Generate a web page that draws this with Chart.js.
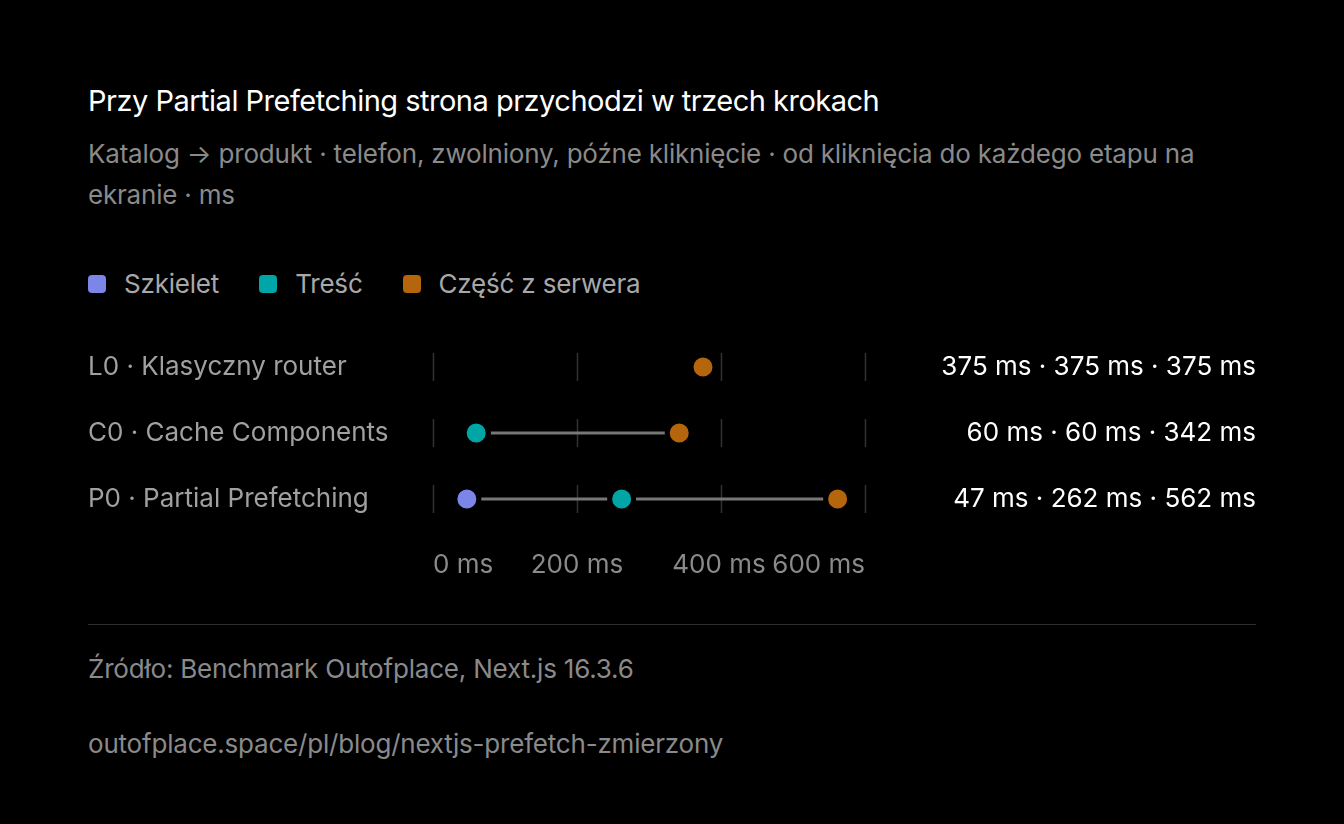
<!DOCTYPE html>
<html><head><meta charset="utf-8">
<script src="https://cdn.jsdelivr.net/npm/chart.js@4"></script>
<style>
body{margin:0;background:#000;width:1344px;height:824px;overflow:hidden;font-family:Inter,sans-serif;}
.t{position:absolute;left:88px;top:83px;color:#fff;font-size:29px;letter-spacing:-0.5px}
.s{position:absolute;left:88px;top:133px;width:1170px;color:#8a8a8a;font-size:26px;line-height:41px;letter-spacing:-0.2px}
.lg{position:absolute;left:88px;top:268px;color:#a8a8a8;font-size:26px;display:flex;letter-spacing:-0.2px}
.lg span{display:flex;align-items:center;margin-right:40px}
.lg i{display:inline-block;width:18px;height:18px;border-radius:4px;margin-right:18px}
#w{position:absolute;left:88px;top:317px;width:1168px;height:281px}
.hr{position:absolute;left:88px;top:624px;width:1168px;height:1px;background:#2e2e2e}
.f{position:absolute;left:88px;color:#8a8a8a;font-size:26px;letter-spacing:-0.2px}
</style></head><body>
<div class="t">Przy Partial Prefetching strona przychodzi w trzech krokach</div>
<div class="s">Katalog → produkt · telefon, zwolniony, późne kliknięcie · od kliknięcia do każdego etapu na ekranie · ms</div>
<div class="lg"><span><i style="background:#7b86e8"></i>Szkielet</span><span><i style="background:#00a6a6"></i>Treść</span><span><i style="background:#b5650c"></i>Część z serwera</span></div>
<div id="w"><canvas id="c"></canvas></div>
<div class="hr"></div>
<div class="f" style="top:653px">Źródło: Benchmark Outofplace, Next.js 16.3.6</div>
<div class="f" style="top:728px">outofplace.space/pl/blog/nextjs-prefetch-zmierzony</div>
<script>
const rows=["L0 · Klasyczny router","C0 · Cache Components","P0 · Partial Prefetching"];
const szkielet=[375,60,47];
const tresc=[375,60,262];
const serwer=[375,342,562];
const xTicks=[0,200,400,600];
const tickLabels=["0 ms","200 ms","400 ms","600 ms"];
const colors={s:"#7b86e8",t:"#00a6a6",c:"#b5650c"};
const pts=a=>a.map((v,i)=>({x:v,y:rows[i]}));
const lineSets=rows.map((r,i)=>({type:'line',data:[{x:szkielet[i],y:r},{x:tresc[i],y:r},{x:serwer[i],y:r}],borderColor:'#777',borderWidth:3,pointRadius:0,order:10}));
const dot=(a,c)=>({type:'scatter',data:pts(a),backgroundColor:c,borderColor:'#000',borderWidth:5,pointRadius:12,pointHoverRadius:12,order:1});
const deco={id:'deco',beforeDatasetsDraw(ch){const {ctx,scales:{x,y}}=ch;ctx.save();ctx.strokeStyle='#333';ctx.lineWidth=1.5;
rows.forEach(r=>{const yy=y.getPixelForValue(r);xTicks.forEach(t=>{const xx=Math.round(x.getPixelForValue(t))+0.5;ctx.beginPath();ctx.moveTo(xx,yy-14);ctx.lineTo(xx,yy+14);ctx.stroke();});});ctx.restore();},
afterDraw(ch){const {ctx,scales:{x,y}}=ch;ctx.save();ctx.font='26px Inter';ctx.textBaseline='middle';
ctx.fillStyle='#fff';ctx.textAlign='right';rows.forEach((r,i)=>{ctx.fillText(`${szkielet[i]} ms · ${tresc[i]} ms · ${serwer[i]} ms`,ch.width,y.getPixelForValue(r));});
ctx.fillStyle='#8a8a8a';const al=['left','center','center','right'];xTicks.forEach((t,i)=>{ctx.textAlign=al[i];ctx.fillText(tickLabels[i],x.getPixelForValue(t)+(i==2?-2:0),248);});
ctx.restore();}};
new Chart(document.getElementById('c'),{data:{datasets:[...lineSets,dot(serwer,colors.c),dot(tresc,colors.t),dot(szkielet,colors.s)]},
plugins:[deco],
options:{responsive:true,maintainAspectRatio:false,animation:false,layout:{padding:{top:4,bottom:58,right:391}},
plugins:{legend:{display:false},tooltip:{enabled:false}},
scales:{x:{type:'linear',min:0,max:600,grid:{display:false},border:{display:false},ticks:{display:false}},
y:{type:'category',labels:rows,offset:true,grid:{display:false},border:{display:false},afterFit(s){s.width=345;},
ticks:{color:'#a0a0a0',font:{size:26,family:'Inter'},crossAlign:'far',padding:0}}}}});
</script></body></html>
